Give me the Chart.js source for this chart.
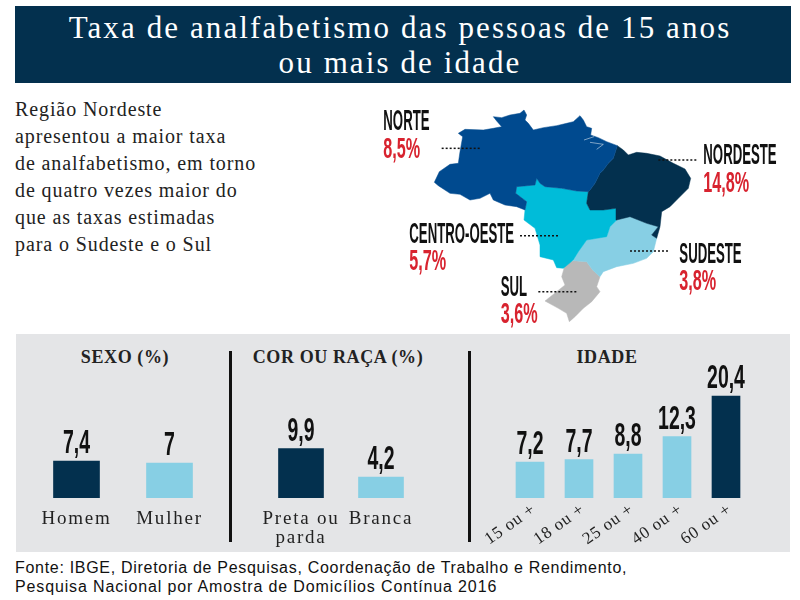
<!DOCTYPE html>
<html lang="pt">
<head>
<meta charset="utf-8">
<title>Taxa de analfabetismo</title>
<script src="https://cdn.jsdelivr.net/npm/chart.js@4"></script>
<style>
  html, body { margin: 0; padding: 0; background: #fff; }
  body { width: 800px; height: 600px; position: relative; overflow: hidden; }
  canvas { position: absolute; }
  .box { position: absolute; }
  .txt { position: absolute; white-space: nowrap; }
  #header { left: 15px; top: 6px; width: 776px; height: 77px; background: #03304e; }
  #title { left: 12px; top: 10px; width: 776px; text-align: center; color: #fff;
           font: 31px/35px "Liberation Serif", serif; letter-spacing: 2.1px; }
  #intro { left: 15px; top: 96px; color: #222;
           font: 20px/27px "Liberation Serif", serif; letter-spacing: 0.9px; }
  #panel { left: 16px; top: 334px; width: 774px; height: 218px; background: #e4e5e7; }
  .rule { top: 351px; width: 3px; height: 191px; background: #111; }
  .head { top: 347px; text-align: center; color: #222;
          font: bold 18px/20px "Liberation Serif", serif; letter-spacing: 0.6px; }
  #source { left: 15px; top: 558px; color: #111;
            font: 16px/19px "Liberation Sans", sans-serif; letter-spacing: 0.7px; }
  #source span { letter-spacing: 0.86px; }
</style>
</head>
<body>
<div class="box" id="header"></div>
<div class="txt" id="title">Taxa de analfabetismo das pessoas de 15 anos<br>ou mais de idade</div>
<div class="txt" id="intro">Região Nordeste<br>apresentou a maior taxa<br>de analfabetismo, em torno<br>de quatro vezes maior do<br>que as taxas estimadas<br>para o Sudeste e o Sul</div>
<div class="box" id="panel"></div>
<div class="box rule" style="left:229px"></div>
<div class="box rule" style="left:468px"></div>
<div class="txt head" style="left:25px;width:200px">SEXO (%)</div>
<div class="txt head" style="left:238px;width:200px">COR OU RAÇA (%)</div>
<div class="txt head" style="left:507px;width:200px">IDADE</div>
<div class="txt" id="source">Fonte: IBGE, Diretoria de Pesquisas, Coordenação de Trabalho e Rendimento,<br><span>Pesquisa Nacional por Amostra de Domicílios Contínua 2016</span></div>

<canvas id="mapChart" width="420" height="235" style="left:370px;top:95px"></canvas>
<canvas id="sexoChart" width="186" height="214" style="left:30px;top:338px"></canvas>
<canvas id="racaChart" width="160" height="214" style="left:261px;top:338px"></canvas>
<canvas id="idadeChart" width="285" height="214" style="left:475px;top:338px"></canvas>

<script>
var sexoLabels = ["Homem", "Mulher"];
var sexoValues = [7.4, 7];
var racaLabels = [["Preta ou", "parda"], "Branca"];
var racaValues = [9.9, 4.2];
var idadeLabels = ["15 ou +", "18 ou +", "25 ou +", "40 ou +", "60 ou +"];
var idadeValues = [7.2, 7.7, 8.8, 12.3, 20.4];

var regionNames = ["NORTE", "NORDESTE", "CENTRO-OESTE", "SUDESTE", "SUL"];
var regionRates = [8.5, 14.8, 5.7, 3.8, 3.6];
var regionColors = ["#004a8f", "#03304e", "#00bcd9", "#87cfe4", "#b8b8b8"];

// region outlines, traced in map units
var norteShape = [[370,65],[395,68],[420,60],[450,55],[462,45],[470,60],[465,75],[475,85],[490,105],[520,98],[560,92],[590,85],[610,80],[630,62],[640,75],[650,95],[665,100],[662,120],[685,128],[710,140],[742,152],[730,190],[715,205],[700,225],[690,235],[675,265],[660,285],[655,290],[620,288],[575,280],[525,275],[510,265],[500,250],[495,270],[440,275],[437,295],[470,320],[465,345],[440,335],[405,330],[370,315],[360,295],[330,310],[300,315],[270,298],[240,295],[205,272],[193,262],[208,230],[240,208],[265,205],[270,170],[278,125],[265,115],[285,103],[340,105],[370,100],[395,95],[380,78],[370,65]];
var nordesteShape = [[742,152],[760,165],[775,180],[800,172],[830,175],[870,183],[910,205],[945,222],[962,250],[955,280],[925,310],[900,335],[875,350],[870,395],[860,430],[845,420],[865,395],[830,385],[780,365],[740,375],[738,340],[700,345],[660,345],[650,325],[655,290],[660,285],[675,265],[690,235],[700,225],[715,205],[730,190],[742,152]];
var centroShape = [[440,275],[495,270],[500,250],[510,265],[525,275],[575,280],[620,288],[655,290],[650,325],[660,345],[700,345],[738,340],[740,375],[720,395],[710,425],[650,435],[625,470],[610,495],[580,520],[560,518],[550,495],[510,485],[510,450],[495,400],[462,375],[465,345],[470,320],[437,295],[440,275]];
var sudesteShape = [[740,375],[780,365],[830,385],[865,395],[845,420],[860,430],[850,470],[830,490],[790,505],[740,515],[700,530],[690,545],[668,525],[650,500],[610,497],[625,470],[650,435],[710,425],[720,395],[740,375]];
var sulShape = [[610,497],[650,500],[668,525],[690,545],[680,575],[690,590],[665,620],[640,640],[615,665],[598,680],[590,655],[565,640],[525,618],[560,590],[585,570],[575,545],[585,510],[610,497]];
var regionShapes = [norteShape, nordesteShape, centroShape, sudesteShape, sulShape];
var riverLines = [[[642,135],[672,125]], [[660,142],[700,148],[680,163]]];

var leaderLines = [[[215,160],[330,160]], [[865,195],[985,195]], [[450,422],[565,422]], [[780,468],[895,468]], [[505,590],[620,590]]];
var nameSpots = [[40,105],[1000,208],[118,445],[928,503],[392,603]];
var rateSpots = [[40,188],[1000,292],[118,525],[928,585],[392,685]];

var DARK = "#03304e", LIGHT = "#87cfe4";
var DISPLAY = '"Liberation Sans", sans-serif';

// no condensed face installed: squeeze a bold sans into shape
function narrowText(ctx, text, x, y, size, squeeze, color, align) {
    ctx.save();
    ctx.font = "bold " + size + "px " + DISPLAY;
    ctx.fillStyle = color;
    ctx.textAlign = align;
    ctx.textBaseline = "alphabetic";
    ctx.translate(x, y);
    ctx.scale(squeeze, 1);
    ctx.fillText(text, 0, 0);
    ctx.restore();
}

function valueLabels(spacing) {
    return {
        id: "valueLabels",
        beforeDraw: function (chart) { chart.ctx.letterSpacing = spacing; },
        afterDatasetsDraw: function (chart) {
            var ctx = chart.ctx;
            ctx.letterSpacing = "0px";
            var values = chart.data.datasets[0].data;
            chart.getDatasetMeta(0).data.forEach(function (bar, i) {
                narrowText(ctx, String(values[i]).replace(".", ","), bar.x, bar.y - 8, 33, 0.59, "#111", "center");
            });
        }
    };
}

function barChart(id, labels, values, thickness, rotation, pad) {
    return new Chart(document.getElementById(id), {
        type: "bar",
        data: {
            labels: labels,
            datasets: [{
                data: values,
                barThickness: thickness,
                backgroundColor: function (c) {
                    return c.parsed.y === Math.max.apply(null, values) ? DARK : LIGHT;
                }
            }]
        },
        options: {
            responsive: false,
            animation: false,
            layout: { padding: pad },
            plugins: { legend: { display: false }, tooltip: { enabled: false } },
            scales: {
                y: { display: false, min: 0, max: 32 },
                x: {
                    grid: { display: false, drawTicks: false },
                    border: { display: false },
                    afterFit: function (s) {
                        s.height = 54;
                        s.paddingLeft = 0;
                        s.paddingRight = 0;
                    },
                    ticks: {
                        autoSkip: false,
                        color: "#222",
                        minRotation: rotation,
                        maxRotation: rotation,
                        padding: rotation ? 3 : 12,
                        labelOffset: rotation ? 4 : 0,
                        font: { family: '"Liberation Serif", serif', size: rotation ? 17 : 19, lineHeight: 1 }
                    }
                }
            }
        },
        plugins: [valueLabels(rotation ? "0.8px" : "1.8px")]
    });
}

barChart("sexoChart", sexoLabels, sexoValues, 46, 0, 0);
barChart("racaChart", racaLabels, racaValues, 45, 0, 0);
barChart("idadeChart", idadeLabels, idadeValues, 28, 35, { left: 30.5, right: 9.5 });

function toPoints(list) {
    return list.map(function (p) { return { x: p[0], y: p[1] }; });
}

var mapDatasets = [];
regionShapes.forEach(function (shape, i) {
    mapDatasets.push({
        label: regionNames[i],
        data: toPoints(shape),
        showLine: true,
        fill: "shape",
        tension: 0,
        pointRadius: 0,
        backgroundColor: regionColors[i],
        borderColor: regionColors[i],
        borderWidth: 0.5,
        order: 3
    });
});
riverLines.forEach(function (line) {
    mapDatasets.push({ data: toPoints(line), showLine: true, pointRadius: 0, borderColor: "rgba(255,255,255,0.7)", borderWidth: 0.7, order: 2 });
});
leaderLines.forEach(function (line) {
    mapDatasets.push({ data: toPoints(line), showLine: true, pointRadius: 0, borderColor: "#111", borderWidth: 1.5, borderDash: [2, 2], order: 1 });
});

var regionLabels = {
    id: "regionLabels",
    afterDatasetsDraw: function (chart) {
        var sx = chart.scales.x, sy = chart.scales.y;
        regionNames.forEach(function (name, i) {
            narrowText(chart.ctx, name, sx.getPixelForValue(nameSpots[i][0]), sy.getPixelForValue(nameSpots[i][1]), 29, 0.455, "#111", "left");
            var rate = String(regionRates[i]).replace(".", ",") + "%";
            narrowText(chart.ctx, rate, sx.getPixelForValue(rateSpots[i][0]), sy.getPixelForValue(rateSpots[i][1]), 30, 0.54, "#d8232f", "left");
        });
    }
};

new Chart(document.getElementById("mapChart"), {
    type: "scatter",
    data: { datasets: mapDatasets },
    options: {
        responsive: false,
        animation: false,
        plugins: { legend: { display: false }, tooltip: { enabled: false } },
        scales: {
            x: { display: false, min: 0, max: 1260 },
            y: { display: false, min: 0, max: 705, reverse: true }
        }
    },
    plugins: [regionLabels]
});
</script>
</body>
</html>
